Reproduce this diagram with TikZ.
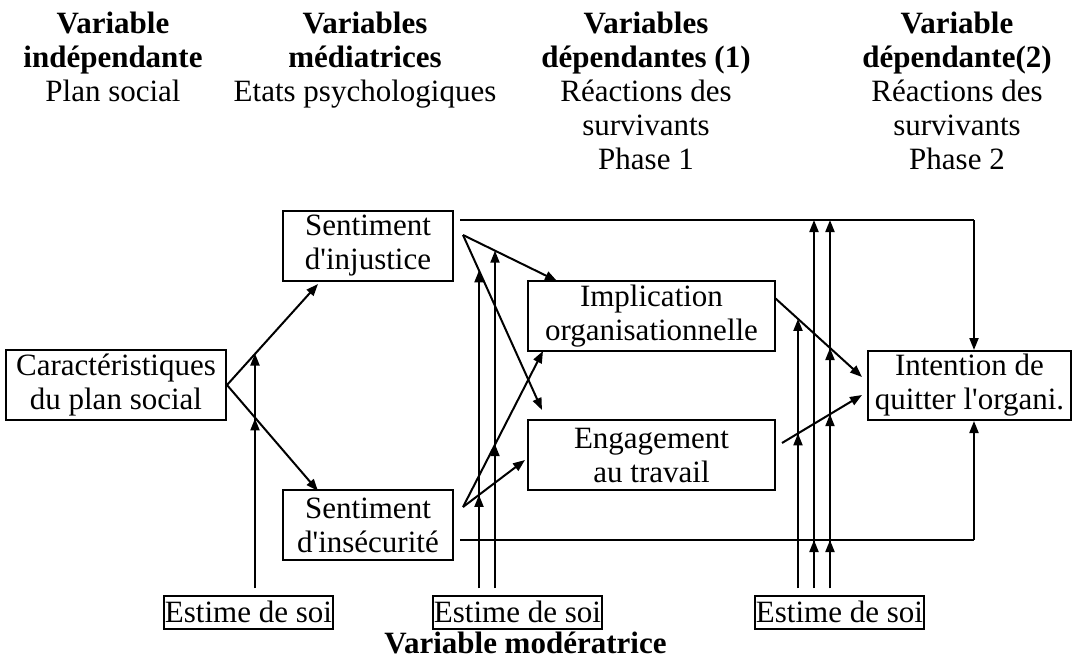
\documentclass[tikz,border=0pt]{standalone}
\usepackage{fontspec}
\setmainfont{Liberation Serif}[Ligatures=TeXOff]
\usetikzlibrary{arrows.meta}

\begin{document}
\begin{tikzpicture}[x=0.5pt, y=-0.5pt, line width=1pt,
    font={\fontsize{15.5pt}{17pt}\selectfont},
    varbox/.style={draw, inner sep=0pt, align=center, minimum height=35pt},
    estbox/.style={draw, inner sep=0pt, minimum width=84.5pt, minimum height=16.5pt},
    head/.style={align=center, anchor=north, inner sep=0pt},
    arr/.style={-{Triangle[length=6pt,width=4.5pt]}},
    link/.style={line width=0.7pt}]
  \useasboundingbox (0,0) rectangle (1073,659);

  % en-tetes des colonnes
  \node[head] (h1) at (113,11) {\textbf{Variable}\\\textbf{indépendante}\\Plan social};
  \node[head] (h2) at (365,11) {\textbf{Variables}\\\textbf{médiatrices}\\Etats psychologiques};
  \node[head] (h3) at (646,11) {\textbf{Variables}\\\textbf{dépendantes (1)}\\Réactions des\\survivants\\Phase 1};
  \node[head] (h4) at (957,11) {\textbf{Variable}\\\textbf{dépendante(2)}\\Réactions des\\survivants\\Phase 2};

  % variables
  \node[varbox, minimum width=110pt] (carac) at (116,385) {Caractéristiques\\du plan social};
  \node[varbox, minimum width=85pt] (injust) at (368,246) {Sentiment\\d'injustice};
  \node[varbox, minimum width=85pt] (insec) at (368,525) {Sentiment\\d'insécurité};
  \node[varbox, minimum width=123.5pt] (impl) at (651.5,316) {Implication\\organisationnelle};
  \node[varbox, minimum width=123.5pt] (engag) at (651.5,455) {Engagement\\au travail};
  \node[varbox, minimum width=101.5pt, minimum height=34.5pt] (intent) at (969.5,385.5) {Intention de\\quitter l'organi.};

  % moderateurs
  \node[estbox] (est1) at (248.5,612) {Estime de soi};
  \node[estbox] (est2) at (517.5,612) {Estime de soi};
  \node[estbox] (est3) at (839.5,612) {Estime de soi};
  \node[anchor=base, inner sep=0pt] (moder) at (525.5,653) {\textbf{Variable modératrice}};

  % points des fleches
  \coordinate (cj) at (318,284);
  \coordinate (ci) at (318,491);
  \coordinate (ja) at (463,235);
  \coordinate (ji) at (557,281);
  \coordinate (je) at (542,410);
  \coordinate (sa) at (463,507);
  \coordinate (si) at (543,351);
  \coordinate (se) at (525,460);
  \coordinate (ta) at (460,220);
  \coordinate (tc) at (974,220);
  \coordinate (ba) at (460,540);
  \coordinate (bc) at (974,540);
  \coordinate (ia) at (775,298);
  \coordinate (it) at (862,377);
  \coordinate (ea) at (782,443);
  \coordinate (et) at (862,395);

  \draw[arr] (carac.east) -- (cj);
  \draw[arr] (carac.east) -- (ci);
  \draw[arr] (ja) -- (ji);
  \draw[arr] (ja) -- (je);
  \draw[arr] (sa) -- (si);
  \draw[arr] (sa) -- (se);
  \draw[arr] (ia) -- (it);
  \draw[arr] (ea) -- (et);
  \draw[link] (ta) -- (tc);
  \draw[arr] (tc) -- (tc |- intent.north);
  \draw[link] (ba) -- (bc);
  \draw[arr] (bc) -- (bc |- intent.south);

  % effets moderateurs
  \foreach \x/\tips [count=\i] in {255/{353.5,418.4}, 479/{270.4,494.9},
      495/{250.7,444.2}, 798/{318.9,433.4}, 814/{220,540}, 830/{220,540,348,414.2}}{
    \coordinate (foot\i) at (\x,588);
    \foreach \y [count=\j] in \tips {
      \coordinate (tip\i\j) at (\x,\y);
      \draw[arr] (foot\i) -- (tip\i\j);
    }
  }
\end{tikzpicture}
\end{document}
